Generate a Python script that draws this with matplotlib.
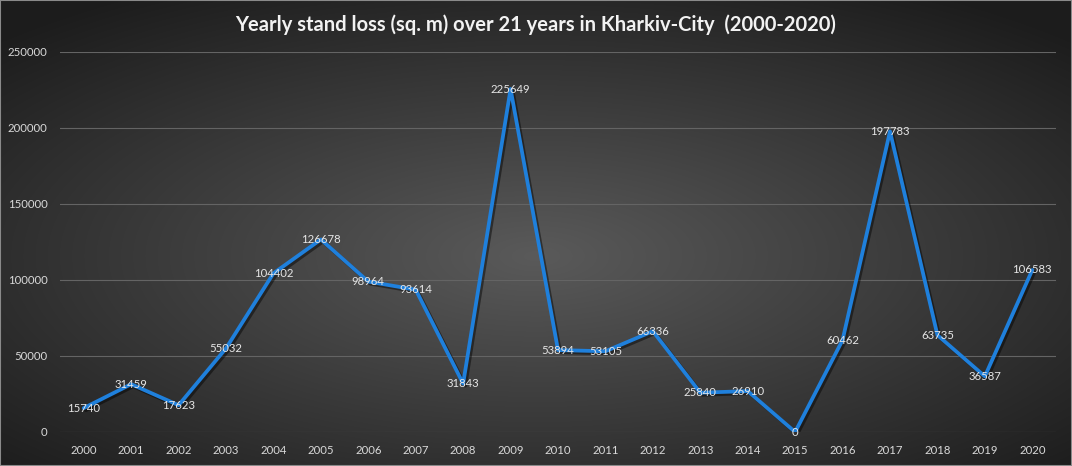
import matplotlib.pyplot as plt
import matplotlib.patheffects as pe
import numpy as np
from matplotlib.patches import Rectangle

# Data
years = [str(y) for y in range(2000, 2021)]
loss = [15740, 31459, 17623, 55032, 104402, 126678, 98964, 93614, 31843, 225649,
        53894, 53105, 66336, 25840, 26910, 0, 60462, 197783, 63735, 36587, 106583]
y_ticks = [0, 50000, 100000, 150000, 200000, 250000]

plt.rcParams['font.family'] = ['Lato', 'DejaVu Sans']

fig = plt.figure(figsize=(10.72, 4.66), dpi=100)

# radial gradient background (Excel style)
bg = fig.add_axes([0, 0, 1, 1], zorder=-10)
gx, gy = np.meshgrid(np.linspace(-1, 1, 536), np.linspace(-1, 1, 233))
r = np.sqrt((gx / 1.0) ** 2 + ((gy + 0.1) / 0.95) ** 2) / np.sqrt(2)
r = np.clip(r, 0, 1)
inner = np.array([0x5a, 0x5a, 0x5a]) / 255
outer = np.array([0x1c, 0x1c, 0x1c]) / 255
img = inner[None, None, :] * (1 - r[..., None]) + outer[None, None, :] * r[..., None]
bg.imshow(img, extent=[0, 1, 0, 1], aspect='auto', interpolation='bilinear', origin='lower')
bg.set_xlim(0, 1)
bg.set_ylim(0, 1)
bg.axis('off')

ax = fig.add_axes([60 / 1072, 1 - 432 / 466, 996 / 1072, 380 / 466])
ax.patch.set_alpha(0)
x = np.arange(len(years))
ax.plot(x, loss, color='#1f80dc', lw=2.7, solid_joinstyle='round', solid_capstyle='round',
        path_effects=[pe.SimpleLineShadow(offset=(1.5, -1.5), shadow_color='black', alpha=0.45),
                      pe.Normal()], zorder=3)

for xi, v in zip(x, loss):
    ax.text(xi, v, str(v), ha='center', va='center', color='#e6e6e6', fontsize=8.2, zorder=4)

ax.set_xlim(-0.5, len(years) - 0.5)
ax.set_ylim(0, 250000)
ax.set_xticks(x)
ax.set_xticklabels(years)
ax.set_yticks(y_ticks)
ax.set_yticklabels([str(t) for t in y_ticks])
ax.tick_params(axis='both', length=0, colors='#d9d9d9', labelsize=8.2)
ax.tick_params(axis='x', pad=9)
ax.tick_params(axis='y', pad=9)
ax.grid(axis='y', color='#646464', lw=0.8)
ax.set_axisbelow(True)
for s in ax.spines.values():
    s.set_visible(False)

fig.text(0.5, 1 - 25 / 466, 'Yearly stand loss (sq. m) over 21 years in Kharkiv-City  (2000-2020)',
         ha='center', va='center', color='#f2f2f2', fontsize=14.5, fontweight='bold')

fig.patches.append(Rectangle((0, 0), 1, 1, transform=fig.transFigure, fill=False,
                             edgecolor='#8a8a8a', lw=1.5, zorder=20))

fig.savefig('out.png', dpi=100)
